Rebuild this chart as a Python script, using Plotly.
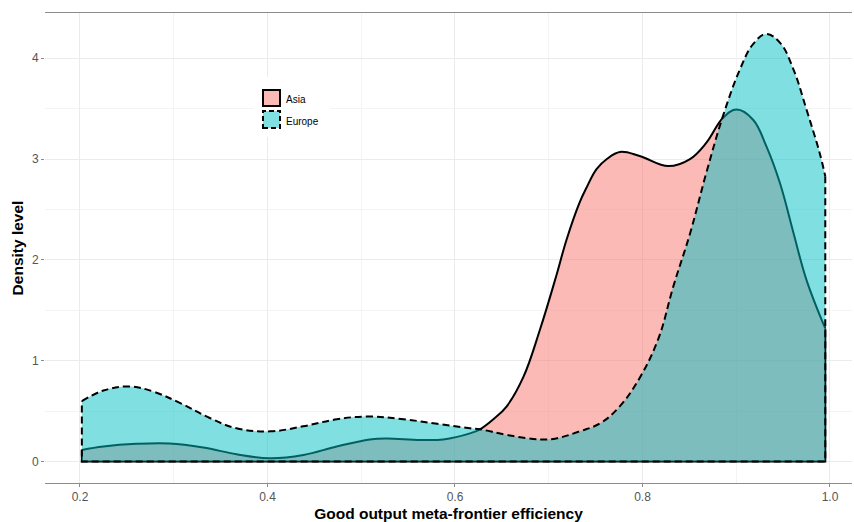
import plotly.graph_objects as go

# Density curves
asia_x = [0.202, 0.225, 0.26, 0.2955, 0.3315, 0.367, 0.4027, 0.4384, 0.4738, 0.509, 0.527, 0.5627,
          0.5875, 0.616, 0.6267, 0.641, 0.655, 0.673, 0.6907, 0.708, 0.719, 0.733, 0.740, 0.751,
          0.762, 0.776, 0.797, 0.8276, 0.8507, 0.868, 0.886, 0.9004, 0.918, 0.932, 0.9467, 0.961,
          0.975, 0.995]
asia_y = [0.116, 0.15, 0.176, 0.18, 0.14, 0.073, 0.034, 0.066, 0.15, 0.22, 0.23, 0.215,
          0.22, 0.28, 0.32, 0.42, 0.546, 0.84, 1.31, 1.84, 2.20, 2.57, 2.71, 2.90,
          3.00, 3.07, 3.03, 2.93, 3.0, 3.16, 3.41, 3.49, 3.39, 3.13, 2.76, 2.27,
          1.80, 1.32]

europe_x = [0.202, 0.225, 0.253, 0.278, 0.307, 0.339, 0.367, 0.403, 0.438, 0.474, 0.506, 0.545,
            0.581, 0.616, 0.627, 0.655, 0.691, 0.708, 0.733, 0.755, 0.776, 0.797, 0.817, 0.833,
            0.851, 0.868, 0.886, 0.904, 0.918, 0.932, 0.947, 0.961, 0.975, 0.989, 0.995]
europe_y = [0.60, 0.705, 0.745, 0.695, 0.58, 0.43, 0.33, 0.30, 0.35, 0.42, 0.447, 0.42,
            0.375, 0.33, 0.32, 0.265, 0.22, 0.23, 0.30, 0.38, 0.55, 0.83, 1.22, 1.74,
            2.27, 2.86, 3.43, 3.89, 4.14, 4.24, 4.15, 3.89, 3.49, 3.06, 2.83]

series = [
    ("Asia", asia_x, asia_y, "rgba(248,118,109,0.5)", "solid"),
    ("Europe", europe_x, europe_y, "rgba(0,191,196,0.5)", "7px,4px"),
]

x_ticks = [0.2, 0.4, 0.6, 0.8, 1.0]
x_ticklabels = ["0.2", "0.4", "0.6", "0.8", "1.0"]
y_ticks = [0, 1, 2, 3, 4]
y_ticklabels = ["0", "1", "2", "3", "4"]

fig = go.Figure()
for name, xs, ys, fc, dash in series:
    fig.add_trace(go.Scatter(
        x=xs, y=ys, mode="lines", fill="tozeroy", fillcolor=fc,
        line=dict(color="black", width=2, dash=dash, shape="spline", smoothing=1.1),
        name=name, showlegend=False, hoverinfo="skip"))
    fig.add_trace(go.Scatter(
        x=[xs[-1], xs[-1], xs[0], xs[0]], y=[ys[-1], 0, 0, ys[0]], mode="lines",
        line=dict(color="black", width=2, dash=dash), showlegend=False, hoverinfo="skip"))

FONT = "Liberation Sans, Arial, sans-serif"

# plot area in pixels: left 45, right 852, top 13, bottom 483
def px(x):
    return (x - 45) / 807.0

def py(y):
    return (483 - y) / 470.0

shapes = [
    dict(type="rect", xref="paper", yref="paper", x0=px(254), x1=px(330), y0=py(137), y1=py(77),
         fillcolor="white", line=dict(width=0), layer="above"),
    dict(type="rect", xref="paper", yref="paper", x0=px(263), x1=px(280), y0=py(106), y1=py(90),
         fillcolor="rgba(248,118,109,0.5)", line=dict(color="black", width=2), layer="above"),
    dict(type="rect", xref="paper", yref="paper", x0=px(263), x1=px(280), y0=py(128), y1=py(111),
         fillcolor="rgba(0,191,196,0.5)", line=dict(color="black", width=2, dash="5px,3px"), layer="above"),
]
annotations = [
    dict(text="Asia", xref="paper", yref="paper", x=px(284), y=py(99), xanchor="left", yanchor="middle",
         showarrow=False, font=dict(family=FONT, size=10, color="black")),
    dict(text="Europe", xref="paper", yref="paper", x=px(284), y=py(121), xanchor="left", yanchor="middle",
         showarrow=False, font=dict(family=FONT, size=10, color="black")),
]

fig.update_layout(
    width=854, height=522,
    margin=dict(l=45, r=2, t=13, b=39),
    paper_bgcolor="white", plot_bgcolor="white",
    font=dict(family=FONT),
    shapes=shapes, annotations=annotations,
    xaxis=dict(
        range=[0.1627, 1.0235], tickvals=x_ticks, ticktext=x_ticklabels,
        showgrid=True, gridcolor="#ebebeb", gridwidth=1,
        minor=dict(dtick=0.1, tick0=0.1, showgrid=True, gridcolor="#f4f4f4", gridwidth=1),
        zeroline=False, showline=True, mirror=True, linecolor="#8c8c8c", linewidth=1,
        ticks="outside", ticklen=3, tickcolor="#8c8c8c",
        tickfont=dict(family=FONT, size=12, color="#555555"),
        title=dict(text="<b>Good output meta-frontier efficiency</b>", standoff=5,
                   font=dict(family=FONT, size=15.5, color="black")),
    ),
    yaxis=dict(
        range=[-0.212, 4.448], tickvals=y_ticks, ticktext=y_ticklabels,
        showgrid=True, gridcolor="#ebebeb", gridwidth=1,
        minor=dict(dtick=0.5, tick0=0, showgrid=True, gridcolor="#f4f4f4", gridwidth=1),
        zeroline=False, showline=False,
        ticks="outside", ticklen=3, tickcolor="#8c8c8c",
        tickfont=dict(family=FONT, size=12, color="#555555"),
        title=dict(text="<b>Density level</b>", standoff=4,
                   font=dict(family=FONT, size=15.5, color="black")),
    ),
)

fig.write_html("out.html")
